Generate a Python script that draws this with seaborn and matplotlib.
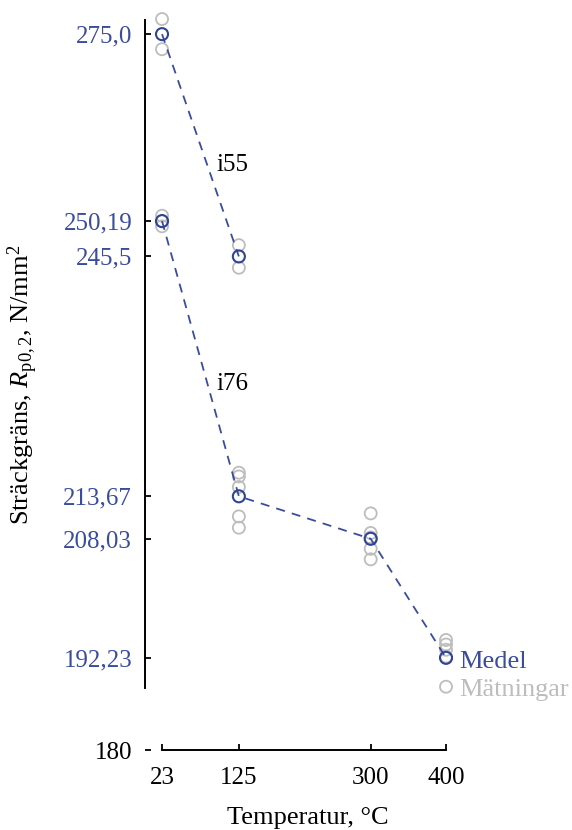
import numpy as np
import pandas as pd
import matplotlib
matplotlib.use("Agg")
import matplotlib.pyplot as plt
import seaborn as sns

sns.set_theme(style="ticks")
plt.rcParams["font.family"] = ["Liberation Serif", "DejaVu Serif"]
plt.rcParams["mathtext.fontset"] = "custom"
plt.rcParams["mathtext.rm"] = "Liberation Serif"
plt.rcParams["mathtext.it"] = "Liberation Serif:italic"
plt.rcParams["text.color"] = "black"
plt.rcParams["axes.labelcolor"] = "black"

BLUE = "#3a4c9e"
MARK_BLUE = "#2f4494"
GRAY = "#bdbdbd"

# temperatures (x)
temps = [23, 125, 300, 400]

# mean values per series
i55_temps = [23, 125]
i55_mean = [275.0, 245.5]
i76_temps = [23, 125, 300, 400]
i76_mean = [250.19, 213.67, 208.03, 192.23]

# single measurements
meas_temp = [23, 23,
             125, 125,
             23, 23, 23,
             125, 125, 125, 125, 125,
             300, 300, 300, 300, 300,
             400, 400, 400, 400]
meas_val = [277.0, 273.0,
            247.0, 244.0,
            250.9, 250.2, 249.5,
            216.8, 216.3, 214.9, 211.0, 209.5,
            211.4, 208.8, 208.2, 206.7, 205.3,
            194.6, 194.0, 193.3, 192.4]

ytick_vals = [180, 192.23, 208.03, 213.67, 245.5, 250.19, 275.0]
ytick_labels = ["180", "192,23", "208,03", "213,67", "245,5", "250,19", "275,0"]

means = pd.DataFrame({
    "temp": i55_temps + i76_temps,
    "val": i55_mean + i76_mean,
    "serie": ["i55"] * len(i55_temps) + ["i76"] * len(i76_temps),
})
meas = pd.DataFrame({"temp": meas_temp, "val": meas_val})

fig = plt.figure(figsize=(5.72, 8.30), dpi=100)
x0 = 144.7 / 572
xr = 420
w = xr * 0.7533 / 572
ax = fig.add_axes([x0, 80 / 830, w, 746 / 830])

sns.scatterplot(data=meas, x="temp", y="val", ax=ax, marker="o",
                facecolor="none", edgecolor=GRAY, linewidth=1.3, s=75,
                zorder=2, legend=False)

for name, grp in means.groupby("serie"):
    ax.plot(grp["temp"], grp["val"], color=BLUE, lw=1.3,
            linestyle=(0, (5, 4)), zorder=3)
sns.scatterplot(data=means, x="temp", y="val", ax=ax, marker="o",
                facecolor="none", edgecolor=MARK_BLUE, linewidth=1.5, s=75,
                zorder=4, legend=False)

# legend-like labels beside last point
ax.scatter([400], [188.4], s=75, facecolors="none", edgecolors=GRAY,
           linewidths=1.3, clip_on=False, zorder=2)
ax.text(418, 191.7, "Medel", color=BLUE, fontsize=19, va="center",
        ha="left", clip_on=False)
ax.text(418, 187.9, "Mätningar", color=GRAY, fontsize=19, va="center",
        ha="left", clip_on=False)

ax.text(94.6, 257.6, "i55", fontsize=18, va="center", ha="left", color="black")
ax.text(94.6, 228.6, "i76", fontsize=18, va="center", ha="left", color="black")

ax.set_xlim(0, xr)
ax.set_ylim(180, 279)
ax.set_xticks(temps)
ax.set_xticklabels([str(t) for t in temps])
ax.set_yticks(ytick_vals)
ax.set_yticklabels(ytick_labels)

sns.despine(ax=ax)
ax.spines["left"].set_bounds(188.2, 276.9)
ax.spines["bottom"].set_bounds(23, 400)
for s in ["left", "bottom"]:
    ax.spines[s].set_linewidth(1.4)
    ax.spines[s].set_color("black")

ax.tick_params(axis="both", direction="in", length=4.5, width=1.3,
               colors="black", labelsize=18)
ax.tick_params(axis="y", pad=9)
ax.tick_params(axis="x", pad=12.5)
for lbl, v in zip(ax.get_yticklabels(), ytick_vals):
    lbl.set_color("black" if v == 180 else BLUE)

ax.set_xlabel("Temperatur, °C", fontsize=19, labelpad=14)
ax.xaxis.set_label_coords(0.516, -0.077)
ax.set_ylabel(r"Sträckgräns, $R_{\mathrm{p0,2}}$, N/mm$^2$", fontsize=19)
ax.yaxis.set_label_coords(-0.33, 0.489)
ax.set_facecolor("none")
ax.grid(False)

fig.savefig("out.png", dpi=100)
